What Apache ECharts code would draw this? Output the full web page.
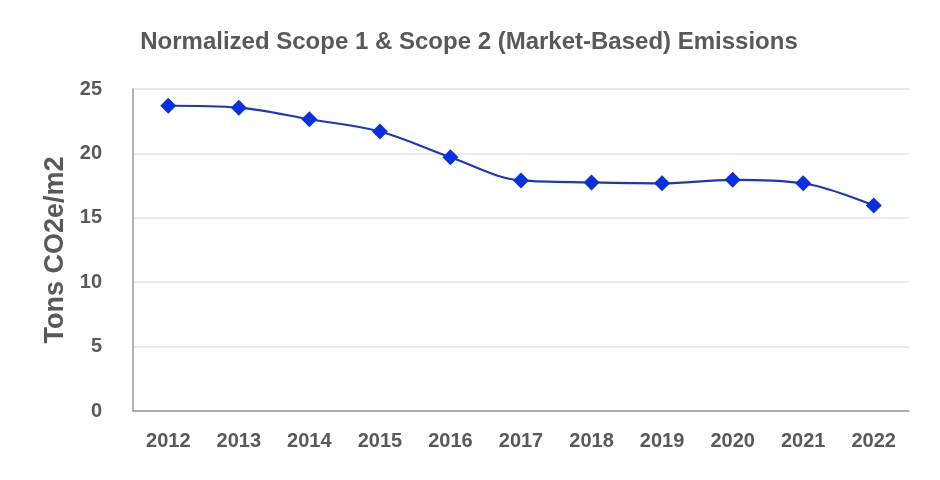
<!DOCTYPE html>
<html>
<head>
<meta charset="utf-8">
<script src="https://cdn.jsdelivr.net/npm/echarts@6/dist/echarts.min.js"></script>
<style>
html,body{margin:0;padding:0;background:#fff;}
#chart{width:940px;height:480px;}
</style>
</head>
<body>
<div id="chart"></div>
<script>
const years = ['2012','2013','2014','2015','2016','2017','2018','2019','2020','2021','2022'];
const emissions = [23.7, 23.55, 22.65, 21.7, 19.7, 17.9, 17.75, 17.68, 17.95, 17.68, 15.95];
const yTicks = [0, 5, 10, 15, 20, 25];

const chart = echarts.init(document.getElementById('chart'));
const gray = '#595959';
chart.setOption({
  backgroundColor: '#fff',
  animation: false,
  title: {
    text: 'Normalized Scope 1 & Scope 2 (Market-Based) Emissions',
    left: 464, top: 25, textAlign: 'center',
    textStyle: {fontFamily: 'Liberation Sans', fontWeight: 'bold', fontSize: 24, color: gray}
  },
  grid: {left: 133, right: 31, top: 89, bottom: 69, containLabel: false},
  xAxis: {
    type: 'category', data: years, boundaryGap: true,
    axisLine: {show: true, lineStyle: {color: '#9a9a9a', width: 1.5}},
    axisTick: {show: false},
    axisLabel: {margin: 20, fontFamily: 'Liberation Sans', fontWeight: 'bold', fontSize: 20, color: gray}
  },
  yAxis: {
    type: 'value', min: yTicks[0], max: yTicks[yTicks.length-1], interval: 5,
    name: 'Tons CO2e/m2', nameLocation: 'middle', nameGap: 64, nameRotate: 90,
    nameTextStyle: {fontFamily: 'Liberation Sans', fontWeight: 'bold', fontSize: 27, color: gray},
    axisLine: {show: true, lineStyle: {color: '#9a9a9a', width: 1.5}},
    axisTick: {show: false},
    splitLine: {lineStyle: {color: '#e3e3e3', width: 1.5}},
    axisLabel: {margin: 31, fontFamily: 'Liberation Sans', fontWeight: 'bold', fontSize: 20, color: gray}
  },
  series: [{
    type: 'line', data: emissions, smooth: 0.35,
    symbol: 'diamond', symbolSize: 16,
    lineStyle: {color: '#1a36c8', width: 2.2},
    itemStyle: {color: '#0a2fe0'}
  }]
});
</script>
</body>
</html>
